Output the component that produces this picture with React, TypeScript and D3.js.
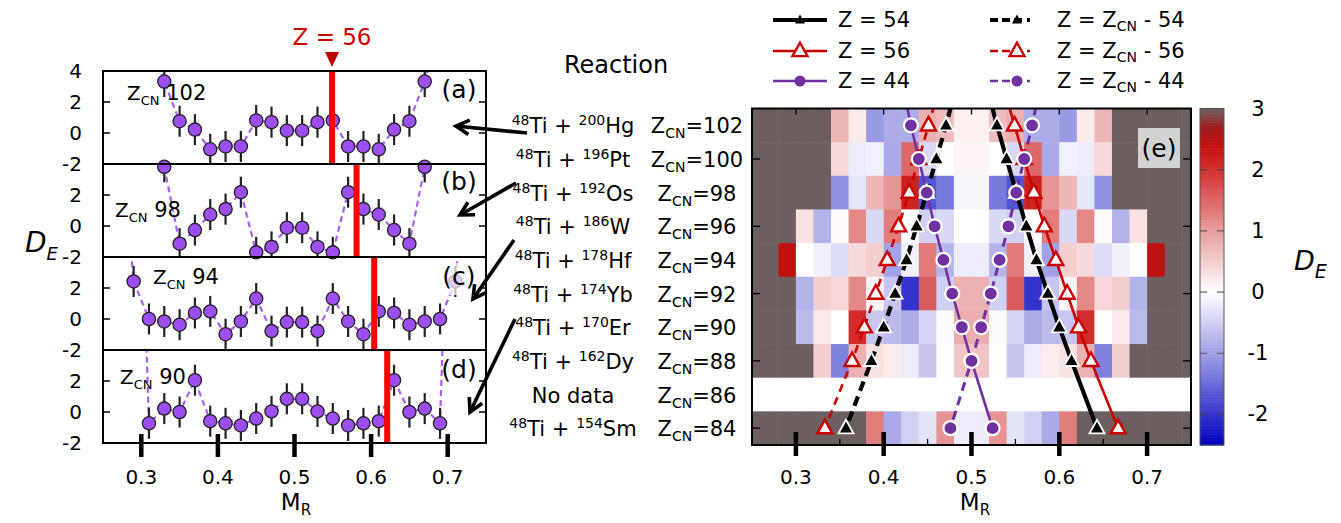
import React from "react";
import * as d3 from "d3";

// ---------- data ----------
const xTicks = [0.3, 0.4, 0.5, 0.6, 0.7];
const yTicksA = [4, 2, 0, -2];
const yTicksOther = [2, 0, -2];

// left panels (a)-(d): mass ratio M_R and D_E
const aX = [0.31, 0.33, 0.35, 0.37, 0.39, 0.41, 0.43, 0.45, 0.47, 0.49, 0.51, 0.53, 0.55, 0.57, 0.59, 0.61, 0.63, 0.65, 0.67, 0.69];
const aY = [7.6, 3.32, 0.76, 0.22, -1.05, -0.87, -0.87, 0.81, 0.7, 0.15, 0.15, 0.7, 0.81, -0.87, -0.87, -1.05, 0.22, 0.76, 3.32, 7.6];
const bX = [0.33, 0.35, 0.37, 0.39, 0.41, 0.43, 0.45, 0.47, 0.49, 0.51, 0.53, 0.55, 0.57, 0.59, 0.61, 0.63, 0.65, 0.67];
const bY = [3.82, -1.14, -0.26, 0.74, 1.09, 2.18, -1.7, -1.35, -0.11, -0.11, -1.35, -1.7, 2.18, 1.09, 0.74, -0.26, -1.14, 3.82];
const cX = [0.27, 0.29, 0.31, 0.33, 0.35, 0.37, 0.39, 0.41, 0.43, 0.45, 0.47, 0.49, 0.51, 0.53, 0.55, 0.57, 0.59, 0.61, 0.63, 0.65, 0.67, 0.69, 0.71, 0.73];
const cY = [14, 2.42, 0.0, -0.16, -0.37, 0.39, 0.49, -0.98, -0.16, 1.32, -0.78, -0.2, -0.2, -0.78, 1.32, -0.16, -0.98, 0.49, 0.39, -0.37, -0.16, 0.0, 2.42, 14];
const dX = [0.29, 0.31, 0.33, 0.35, 0.37, 0.39, 0.41, 0.43, 0.45, 0.47, 0.49, 0.51, 0.53, 0.55, 0.57, 0.59, 0.61, 0.63, 0.65, 0.67, 0.69, 0.71];
const dY = [30, -0.73, 0.22, 0.0, 2.05, -0.59, -0.73, -0.87, -0.42, 0.04, 0.85, 0.85, 0.04, -0.42, -0.87, -0.73, -0.59, 2.05, 0.0, 0.22, -0.73, 30];
const panelZcn = ["102", "98", "94", "90"];
const panelLetters = ["(a)", "(b)", "(c)", "(d)"];
const redBarX = [0.549, 0.581, 0.604, 0.621];

// middle reaction labels
const reactionTarget = [
  ["48", "Ti + ", "200", "Hg"],
  ["48", "Ti + ", "196", "Pt"],
  ["48", "Ti + ", "192", "Os"],
  ["48", "Ti + ", "186", "W"],
  ["48", "Ti + ", "178", "Hf"],
  ["48", "Ti + ", "174", "Yb"],
  ["48", "Ti + ", "170", "Er"],
  ["48", "Ti + ", "162", "Dy"],
  null,
  ["48", "Ti + ", "154", "Sm"],
];

// heatmap (e)
const G = 3.6; // saturated (grey)
const heatCols = [0.25, 0.27, 0.29, 0.31, 0.33, 0.35, 0.37, 0.39, 0.41, 0.43, 0.45, 0.47, 0.49, 0.51, 0.53, 0.55, 0.57, 0.59, 0.61, 0.63, 0.65, 0.67, 0.69, 0.71, 0.73, 0.75];
const heatRows = [102, 100, 98, 96, 94, 92, 90, 88, 86, 84];
const row102 = [G, G, G, G, G, 0.76, 0.22, -1.05, -0.87, -0.87, 0.81, 0.7, 0.15, 0.15, 0.7, 0.81, -0.87, -0.87, -1.05, 0.22, 0.76, G, G, G, G, G];
const row100 = [G, G, G, G, G, 0.4, -0.2, -0.15, -0.9, 1.5, -0.4, 0.0, 0.1, 0.1, 0.0, -0.4, 1.5, -0.9, -0.15, -0.2, 0.4, G, G, G, G, G];
const row98 = [G, G, G, G, G, -1.14, -0.26, 0.74, 1.09, 2.18, -1.7, -1.35, -0.11, -0.11, -1.35, -1.7, 2.18, 1.09, 0.74, -0.26, -1.14, G, G, G, G, G];
const row96 = [G, G, G, 0.3, -0.8, 0.05, 1.2, -0.4, 1.3, 0.0, -0.5, -0.4, 0.0, 0.0, -0.4, -0.5, 0.0, 1.3, -0.4, 1.2, 0.05, -0.8, 0.3, G, G, G];
const row94 = [G, G, 2.42, 0.0, -0.16, -0.37, 0.39, 0.49, -0.98, -0.16, 1.32, -0.78, -0.2, -0.2, -0.78, 1.32, -0.16, -0.98, 0.49, 0.39, -0.37, -0.16, 0.0, 2.42, G, G];
const row92 = [G, G, G, -0.8, 0.5, 0.4, 1.2, 0.1, -0.6, -2.0, 1.6, -0.5, 0.8, 0.8, -0.5, 1.6, -2.0, -0.6, 0.1, 1.2, 0.4, 0.5, -0.8, G, G, G];
const row90 = [G, G, G, -0.73, 0.22, 0.0, 2.05, -0.59, -0.73, -0.87, -0.42, 0.04, 0.85, 0.85, 0.04, -0.42, -0.87, -0.73, -0.59, 2.05, 0.0, 0.22, -0.73, G, G, G];
const row88 = [G, G, G, G, 0.5, -1.3, 0.8, 0.3, 0.2, -0.2, -0.6, 0.0, 0.6, 0.6, 0.0, -0.6, -0.2, 0.2, 0.3, 0.8, -1.3, 0.5, G, G, G, G];
const row86 = [null, null, null, null, null, null, null, null, null, null, null, null, null, null, null, null, null, null, null, null, null, null, null, null, null, null];
const row84 = [G, G, G, G, G, G, G, 1.3, -0.9, -0.5, -0.3, 1.1, -0.2, -0.2, 1.1, -0.3, -0.5, -0.9, 1.3, G, G, G, G, G, G, G];
const heatValues = [row102, row100, row98, row96, row94, row92, row90, row88, row86, row84];

// Z/Z_CN lines (first entry Z_CN=104 only extends the line to the frame)
const lineZcn = [104, 102, 100, 98, 96, 94, 92, 90, 88, 84];
const mZ54 = [0.519, 0.529, 0.54, 0.551, 0.5625, 0.574, 0.587, 0.6, 0.614, 0.643];
const mZ56 = [0.538, 0.549, 0.56, 0.571, 0.583, 0.596, 0.609, 0.622, 0.636, 0.667];
const mZ44 = [0.423, 0.431, 0.44, 0.449, 0.458, 0.468, 0.478, 0.489, 0.5, 0.524];
const mCN54 = [0.481, 0.471, 0.46, 0.449, 0.4375, 0.426, 0.413, 0.4, 0.386, 0.357];
const mCN56 = [0.462, 0.451, 0.44, 0.429, 0.417, 0.404, 0.391, 0.378, 0.364, 0.333];
const mCN44 = [0.577, 0.569, 0.56, 0.551, 0.542, 0.532, 0.522, 0.511, 0.5, 0.476];

const cbTicks = [3, 2, 1, 0, -1, -2];

// ---------- styles ----------
const FONT = "DejaVu Sans";
const RED = "#cc0000";
const PURPLE = "#7030a0";
const VIOLET = "#9d4ef0";
const DASHV = "#a860f2";

const colorScale = d3
  .scaleLinear<string>()
  .domain([-2.5, -2, -1, 0, 1, 2, 2.4, 2.7, 3])
  .range(["#0000c0", "#3434cc", "#a0a0e6", "#ffffff", "#e89e9e", "#d23030", "#c21010", "#a01c1c", "#6d5f5f"])
  .clamp(true);

function Tri({ x, y, s, fill, stroke, sw }: any) {
  const h = s * 0.9;
  const pts = `${x},${y - h * 0.62} ${x - s / 2},${y + h * 0.38} ${x + s / 2},${y + h * 0.38}`;
  return <polygon points={pts} fill={fill} stroke={stroke} strokeWidth={sw} strokeLinejoin="miter" />;
}

function Arrow({ x1, y1, x2, y2 }: any) {
  const ang = Math.atan2(y2 - y1, x2 - x1);
  const L = 15;
  const a1 = ang + Math.PI - 0.5;
  const a2 = ang + Math.PI + 0.5;
  return (
    <g stroke="#000" strokeWidth={3.6} fill="none" strokeLinecap="butt">
      <line x1={x1} y1={y1} x2={x2 - Math.cos(ang) * 2} y2={y2 - Math.sin(ang) * 2} />
      <polyline points={`${x2 + L * Math.cos(a1)},${y2 + L * Math.sin(a1)} ${x2},${y2} ${x2 + L * Math.cos(a2)},${y2 + L * Math.sin(a2)}`} strokeLinejoin="miter" />
    </g>
  );
}

export default function App() {
  // left panels
  const xL = d3.scaleLinear().domain([0.25, 0.75]).range([103, 486]);
  const pTop = [71, 164, 257, 350];
  const pH = 93;
  const panels = [
    { xs: aX, ys: aY },
    { xs: bX, ys: bY },
    { xs: cX, ys: cY },
    { xs: dX, ys: dY },
  ];

  // heatmap
  const hx0 = 752, hx1 = 1191, hy0 = 108.5, hy1 = 445;
  const xH = d3.scaleLinear().domain([0.25, 0.75]).range([hx0, hx1]);
  const yH = d3.scaleLinear().domain([103, 83]).range([hy0, hy1]);

  const cbX = 1200, cbW = 24;
  const yCB = d3.scaleLinear().domain([-2.5, 3]).range([hy1, hy0]);
  const cbSteps = d3.range(0, 220);

  const lineGen = (ms: number[]) =>
    d3
      .line<number>()
      .x((m) => xH(m))
      .y((_, i) => yH(lineZcn[i]))(ms) as string;

  const series = [
    { ms: mZ54, color: "#000", w: 4.2, dash: undefined, marker: "triB" },
    { ms: mCN54, color: "#000", w: 4.2, dash: "10,6", marker: "triB" },
    { ms: mZ56, color: RED, w: 2.6, dash: undefined, marker: "triR" },
    { ms: mCN56, color: RED, w: 2.6, dash: "8,6", marker: "triR" },
    { ms: mZ44, color: PURPLE, w: 2.6, dash: undefined, marker: "circ" },
    { ms: mCN44, color: PURPLE, w: 3, dash: "9,6", marker: "circ" },
  ];

  const drawMarker = (kind: string, x: number, y: number, key: any) => {
    if (kind === "triB") return <Tri key={key} x={x} y={y} s={15} fill="#000" stroke="#fff" sw={1.8} />;
    if (kind === "triR") return <Tri key={key} x={x} y={y} s={15} fill="#fff" stroke={RED} sw={2.4} />;
    return <circle key={key} cx={x} cy={y} r={7} fill={PURPLE} stroke="#fff" strokeWidth={2.2} />;
  };

  return (
    <svg
      width={1341}
      height={523}
      style={{ position: "absolute", left: 0, top: 0, background: "#fff" }}
      fontFamily={FONT}
    >
      <defs>
        {pTop.map((t, i) => (
          <clipPath id={`pc${i}`} key={i}>
            <rect x={xL(0.25)} y={t} width={xL(0.75) - xL(0.25)} height={pH} />
          </clipPath>
        ))}
        <clipPath id="hclip">
          <rect x={hx0} y={hy0} width={hx1 - hx0} height={hy1 - hy0} />
        </clipPath>
      </defs>

      {/* ===== left panels ===== */}
      {panels.map((p, i) => {
        const yS = d3.scaleLinear().domain([-2, 4]).range([pTop[i] + pH, pTop[i]]);
        const line = d3
          .line<number>()
          .x((_, k) => xL(p.xs[k]))
          .y((v) => yS(v))(p.ys) as string;
        return (
          <g key={i}>
            <g clipPath={`url(#pc${i})`}>
              <path d={line} fill="none" stroke={DASHV} strokeWidth={2.2} strokeDasharray="6,4" />
              {p.ys.map((v, k) =>
                v <= 4.2 ? (
                  <line key={k} x1={xL(p.xs[k])} x2={xL(p.xs[k])} y1={yS(v - 1)} y2={yS(v + 1)} stroke="#222" strokeWidth={2.2} />
                ) : null
              )}
            </g>
            {p.ys.map((v, k) =>
              v <= 4.2 ? (
                <circle key={k} cx={xL(p.xs[k])} cy={yS(v)} r={6.6} fill={VIOLET} stroke="#222" strokeWidth={1.3} />
              ) : null
            )}
            {/* red bar */}
            <line x1={xL(redBarX[i])} x2={xL(redBarX[i])} y1={pTop[i]} y2={pTop[i] + pH} stroke="#ff0000" strokeWidth={6} />
            {/* y ticks */}
            {[2, 0].map((t) => (
              <g key={t}>
                <line x1={xL(0.25)} x2={xL(0.25) + 7} y1={yS(t)} y2={yS(t)} stroke="#000" strokeWidth={1.5} />
                <line x1={xL(0.75) - 7} x2={xL(0.75)} y1={yS(t)} y2={yS(t)} stroke="#000" strokeWidth={1.5} />
              </g>
            ))}
            {(i === 0 ? yTicksA : yTicksOther).map((t) => (
              <text key={t} x={82} y={yS(t)} textAnchor="end" dominantBaseline="central" fontSize={20}>
                {t}
              </text>
            ))}
            {/* labels */}
            {i === 2 ? (
              <rect x={440} y={263} width={42} height={32} fill="#fff" opacity={0.7} />
            ) : null}
            <text x={459} y={pTop[i] + [27, 26, 28, 28][i]} textAnchor="middle" fontSize={25}>
              {panelLetters[i]}
            </text>
            <text x={[127, 115, 153, 120][i]} y={[100, 217, 284, 384][i]} fontSize={20}>
              Z<tspan dy={5} fontSize={13}>CN</tspan>
              <tspan dy={-5} fontSize={21}>{" " + panelZcn[i]}</tspan>
            </text>
          </g>
        );
      })}
      {/* panel frames */}
      <rect x={xL(0.25)} y={pTop[0]} width={xL(0.75) - xL(0.25)} height={pH * 4} fill="none" stroke="#000" strokeWidth={2} />
      {pTop.slice(1).map((t, i) => (
        <line key={i} x1={xL(0.25)} x2={xL(0.75)} y1={t} y2={t} stroke="#000" strokeWidth={2} />
      ))}
      {/* bottom thick ticks left */}
      {xTicks.map((t) => (
        <g key={t}>
          <line x1={xL(t)} x2={xL(t)} y1={434} y2={457} stroke="#000" strokeWidth={4.5} />
          <text x={xL(t)} y={477} textAnchor="middle" dominantBaseline="central" fontSize={20}>
            {t.toFixed(1)}
          </text>
        </g>
      ))}
      <text x={296} y={510} textAnchor="middle" fontSize={23}>
        M<tspan dy={5} fontSize={15}>R</tspan>
      </text>
      {/* D_E left */}
      <text x={25} y={252} fontSize={28} fontStyle="italic">
        D<tspan dy={8} fontSize={18}>E</tspan>
      </text>
      {/* Z = 56 marker */}
      <text x={xL(redBarX[0])} y={45} textAnchor="middle" fontSize={23} fill={RED}>
        Z = 56
      </text>
      <polygon
        points={`${xL(redBarX[0]) - 7},52 ${xL(redBarX[0]) + 7},52 ${xL(redBarX[0])},67`}
        fill="#c00000"
      />

      {/* ===== middle labels ===== */}
      <text x={616} y={65} textAnchor="middle" dominantBaseline="central" fontSize={24}>
        Reaction
      </text>
      {heatRows.map((z, i) => {
        const r = reactionTarget[i];
        const y = yH(z) + 8;
        return (
          <g key={z}>
            <text x={573} y={y} textAnchor="middle" fontSize={21}>
              {r ? (
                <>
                  <tspan dy={-8} fontSize={14}>{r[0]}</tspan>
                  <tspan dy={8}>{r[1]}</tspan>
                  <tspan dy={-8} fontSize={14}>{r[2]}</tspan>
                  <tspan dy={8}>{r[3]}</tspan>
                </>
              ) : (
                "No data"
              )}
            </text>
            <text x={697} y={y} textAnchor="middle" fontSize={21}>
              Z<tspan dy={5} fontSize={14}>CN</tspan>
              <tspan dy={-5}>{"=" + z}</tspan>
            </text>
          </g>
        );
      })}
      {/* arrows */}
      <Arrow x1={527} y1={133} x2={456} y2={126} />
      <Arrow x1={516} y1={183} x2={460} y2={215} />
      <Arrow x1={514} y1={240} x2={473} y2={299} />
      <Arrow x1={515} y1={319} x2={470} y2={412} />

      {/* ===== heatmap ===== */}
      <g clipPath="url(#hclip)">
        {heatRows.map((z, i) =>
          heatCols.map((m, j) => {
            const v = heatValues[i][j];
            const x0 = xH(m - 0.01);
            const x1 = xH(m + 0.01);
            return (
              <rect
                key={`${i}-${j}`}
                x={x0}
                y={yH(z + 1)}
                width={x1 - x0 + 0.5}
                height={yH(z - 1) - yH(z + 1) + 0.5}
                fill={v === null ? "#ffffff" : colorScale(v)}
              />
            );
          })
        )}
        {series.map((s, k) => (
          <path key={k} d={lineGen(s.ms)} fill="none" stroke={s.color} strokeWidth={s.w} strokeDasharray={s.dash} />
        ))}
        {series.map((s, k) =>
          s.ms.map((m, i) => (i === 0 ? null : drawMarker(s.marker, xH(m), yH(lineZcn[i]), `${k}-${i}`)))
        )}
      </g>
      {/* heatmap frame & ticks */}
      <rect x={hx0} y={hy0} width={hx1 - hx0} height={hy1 - hy0} fill="none" stroke="#000" strokeWidth={2} />
      {xTicks.map((t) => (
        <line key={`tt${t}`} x1={xH(t)} x2={xH(t)} y1={hy0} y2={hy0 + 6} stroke="#000" strokeWidth={1.3} />
      ))}
      {[0.35, 0.45, 0.55, 0.65].map((t) => (
        <line key={`bt${t}`} x1={xH(t)} x2={xH(t)} y1={hy1} y2={hy1 - 6} stroke="#000" strokeWidth={1.3} />
      ))}
      {[100, 96, 92, 88, 84].map((z) => (
        <g key={`yt${z}`}>
          <line x1={hx0} x2={hx0 + 8} y1={yH(z)} y2={yH(z)} stroke="#000" strokeWidth={1.3} />
          <line x1={hx1 - 8} x2={hx1} y1={yH(z)} y2={yH(z)} stroke="#000" strokeWidth={1.3} />
        </g>
      ))}
      <rect x={1138} y={128} width={42} height={40} fill="#d3d3d3" />
      <text x={1159} y={148} textAnchor="middle" dominantBaseline="central" fontSize={25}>
        (e)
      </text>
      {xTicks.map((t) => (
        <g key={`hx${t}`}>
          <line x1={xH(t)} x2={xH(t)} y1={432} y2={456} stroke="#000" strokeWidth={4.5} />
          <text x={xH(t)} y={477} textAnchor="middle" dominantBaseline="central" fontSize={20}>
            {t.toFixed(1)}
          </text>
        </g>
      ))}
      <text x={975} y={510} textAnchor="middle" fontSize={23}>
        M<tspan dy={5} fontSize={15}>R</tspan>
      </text>

      {/* ===== colorbar ===== */}
      {cbSteps.map((k) => {
        const v0 = -2.5 + (5.5 * k) / cbSteps.length;
        const v1 = -2.5 + (5.5 * (k + 1)) / cbSteps.length;
        return (
          <rect
            key={k}
            x={cbX}
            y={yCB(v1)}
            width={cbW}
            height={yCB(v0) - yCB(v1) + 0.6}
            fill={colorScale((v0 + v1) / 2)}
          />
        );
      })}
      <rect x={cbX} y={hy0} width={cbW} height={hy1 - hy0} fill="none" stroke="#555" strokeWidth={1} />
      {[-2, -1, 0, 1, 2].map((t) => (
        <line key={t} x1={cbX} x2={cbX + cbW} y1={yCB(t)} y2={yCB(t)} stroke="#444" strokeWidth={1.2} strokeDasharray="7,10" opacity={0.8} />
      ))}
      {cbTicks.map((t) => (
        <text key={t} x={1258} y={yCB(t)} textAnchor="middle" dominantBaseline="central" fontSize={21}>
          {t}
        </text>
      ))}
      <text x={1294} y={270} fontSize={27} fontStyle="italic">
        D<tspan dy={8} fontSize={19}>E</tspan>
      </text>

      {/* ===== legend ===== */}
      {[
        { y: 20, color: "#000", w: 4, marker: "sb", label: "54" },
        { y: 51, color: RED, w: 2.6, marker: "sr", label: "56" },
        { y: 81, color: PURPLE, w: 2.6, marker: "sc", label: "44" },
      ].map((r, i) => (
        <g key={i}>
          <line x1={773} x2={827} y1={r.y} y2={r.y} stroke={r.color} strokeWidth={r.w} />
          <line x1={990} x2={1044} y1={r.y} y2={r.y} stroke={r.color} strokeWidth={r.w} strokeDasharray="8,4,8,4,8,5,3,100" />
          {[800, 1017].map((cx) =>
            r.marker === "sb" ? (
              <Tri key={cx} x={cx} y={r.y} s={10} fill="#000" stroke="none" sw={0} />
            ) : r.marker === "sr" ? (
              <Tri key={cx} x={cx} y={r.y} s={15} fill="#fff" stroke={RED} sw={2.4} />
            ) : (
              <circle key={cx} cx={cx} cy={r.y} r={5.5} fill={PURPLE} />
            )
          )}
          <text x={838} y={r.y} dominantBaseline="central" fontSize={21}>
            Z = {r.label}
          </text>
          <text x={1057} y={r.y} dominantBaseline="central" fontSize={21}>
            {"Z =  Z"}
            <tspan dy={6} fontSize={14}>CN</tspan>
            <tspan dy={-6}>{" - " + r.label}</tspan>
          </text>
        </g>
      ))}
    </svg>
  );
}
